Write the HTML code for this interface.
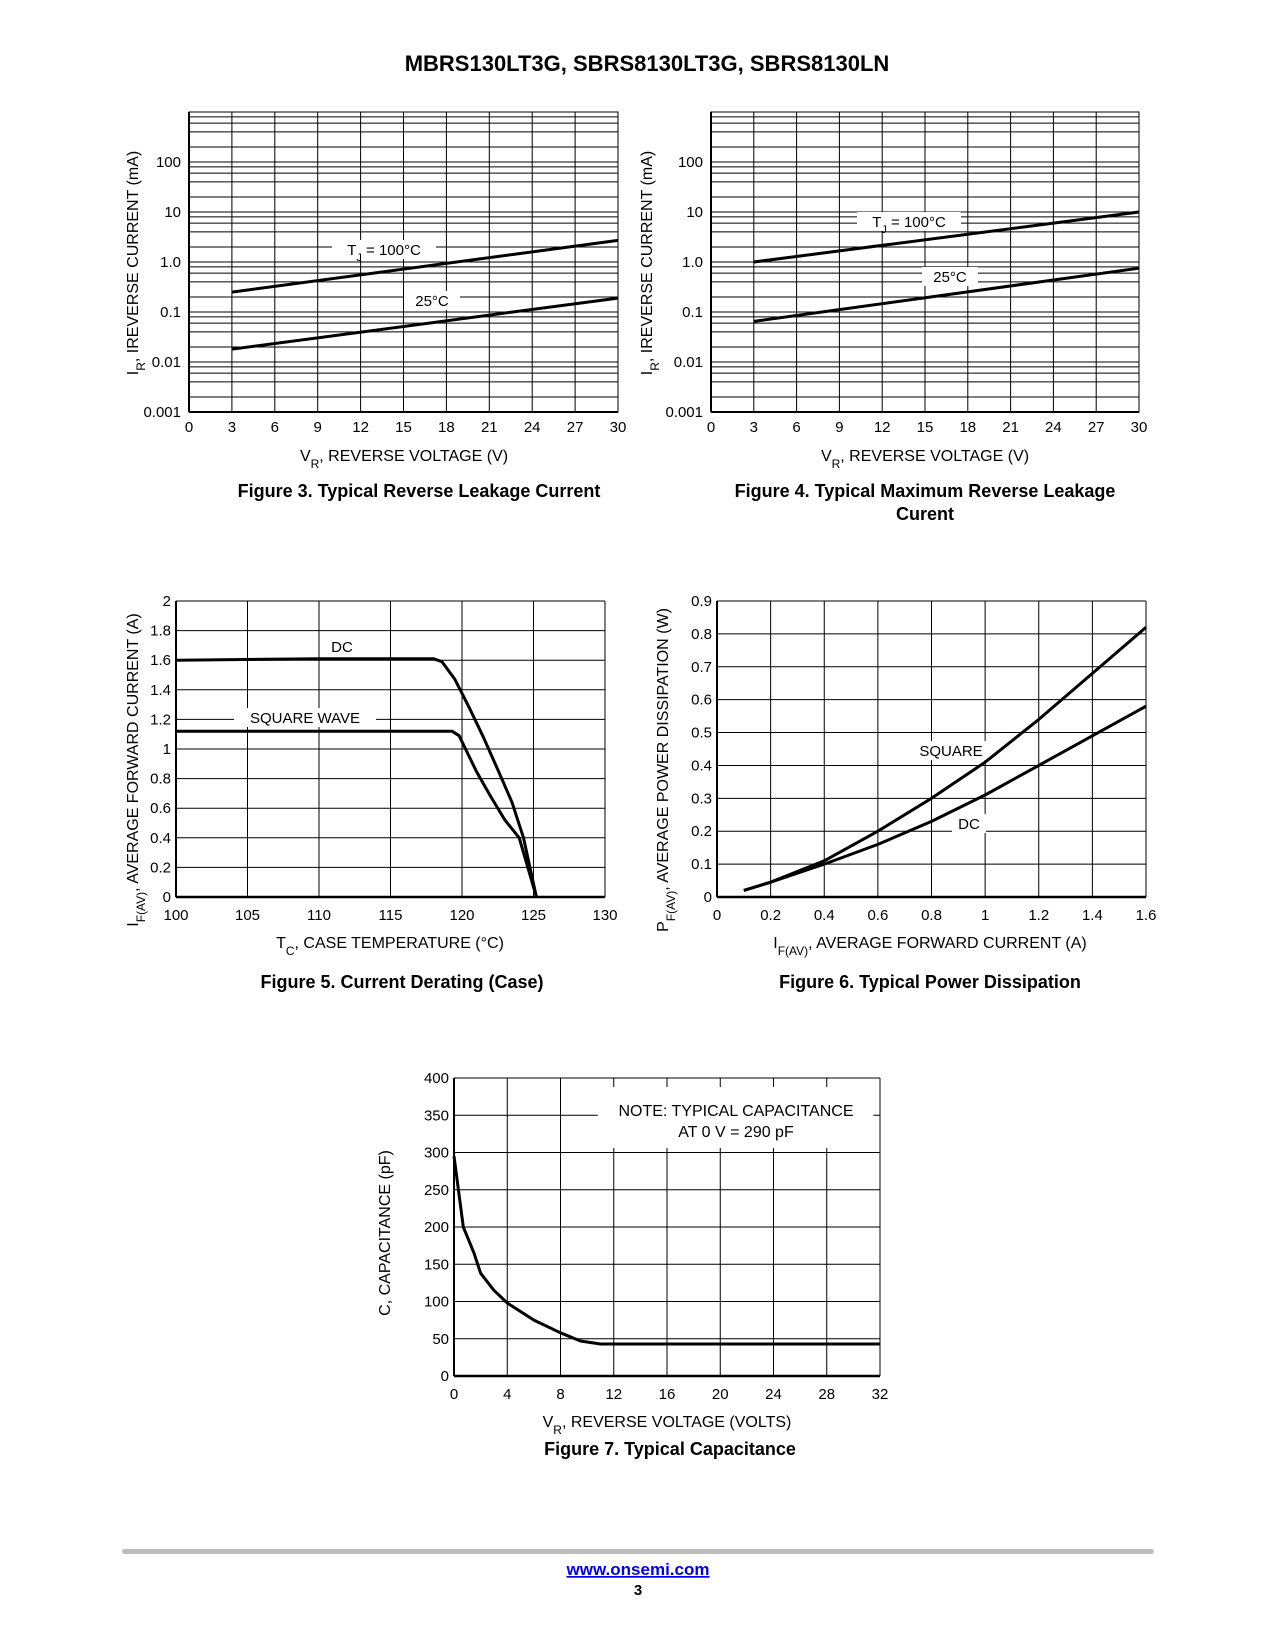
<!DOCTYPE html>
<html><head><meta charset="utf-8">
<style>
html,body{margin:0;padding:0;background:#fff;}
svg{display:block;font-family:"Liberation Sans",sans-serif;}
.t{font-size:15px;fill:#000;}
.ax{font-size:16px;fill:#000;}
.cap{font-size:18px;font-weight:bold;fill:#000;}
</style></head>
<body>
<svg id="page" width="1275" height="1650" viewBox="0 0 1275 1650" xmlns="http://www.w3.org/2000/svg">
<text x="647" y="71" text-anchor="middle" style="font-size:22px;font-weight:bold">MBRS130LT3G, SBRS8130LT3G, SBRS8130LN</text>

<g id="fig3"></g>
<text class="ax" x="404" y="461" text-anchor="middle">V<tspan baseline-shift="sub" font-size="12">R</tspan>, REVERSE VOLTAGE (V)</text>
<text class="ax" transform="translate(138,263) rotate(-90)" text-anchor="middle">I<tspan baseline-shift="sub" font-size="12">R</tspan>, IREVERSE CURRENT (mA)</text>
<text class="cap" x="419" y="497" text-anchor="middle">Figure 3. Typical Reverse Leakage Current</text>

<g id="fig4"></g>
<text class="ax" x="925" y="461" text-anchor="middle">V<tspan baseline-shift="sub" font-size="12">R</tspan>, REVERSE VOLTAGE (V)</text>
<text class="ax" transform="translate(652,263) rotate(-90)" text-anchor="middle">I<tspan baseline-shift="sub" font-size="12">R</tspan>, IREVERSE CURRENT (mA)</text>
<text class="cap" x="925" y="497" text-anchor="middle">Figure 4. Typical Maximum Reverse Leakage</text>
<text class="cap" x="925" y="520" text-anchor="middle">Curent</text>

<g id="fig5"></g>
<text class="ax" x="390" y="948" text-anchor="middle">T<tspan baseline-shift="sub" font-size="12">C</tspan>, CASE TEMPERATURE (°C)</text>
<text class="ax" transform="translate(138,770) rotate(-90)" text-anchor="middle">I<tspan baseline-shift="sub" font-size="12">F(AV)</tspan>, AVERAGE FORWARD CURRENT (A)</text>
<text class="cap" x="402" y="988" text-anchor="middle">Figure 5. Current Derating (Case)</text>

<g id="fig6"></g>
<text class="ax" x="930" y="948" text-anchor="middle">I<tspan baseline-shift="sub" font-size="12">F(AV)</tspan>, AVERAGE FORWARD CURRENT (A)</text>
<text class="ax" transform="translate(668,770) rotate(-90)" text-anchor="middle">P<tspan baseline-shift="sub" font-size="12">F(AV)</tspan>, AVERAGE POWER DISSIPATION (W)</text>
<text class="cap" x="930" y="988" text-anchor="middle">Figure 6. Typical Power Dissipation</text>

<g id="fig7"></g>
<text class="ax" x="667" y="1427" text-anchor="middle">V<tspan baseline-shift="sub" font-size="12">R</tspan>, REVERSE VOLTAGE (VOLTS)</text>
<text class="ax" transform="translate(390,1233) rotate(-90)" text-anchor="middle">C, CAPACITANCE  (pF)</text>
<text class="cap" x="670" y="1455" text-anchor="middle">Figure 7. Typical Capacitance</text>

<rect x="122" y="1549" width="1032" height="5" rx="2.5" fill="#bdbdbd"/>
<a href="#"><text x="638" y="1575" text-anchor="middle" style="font-size:17px;font-weight:bold;fill:#0000ee;text-decoration:underline">www.onsemi.com</text></a>
<text x="638" y="1595" text-anchor="middle" style="font-size:15px;font-weight:bold">3</text>
</svg>

<script>
// ---------- data ----------
const f3X = [0,3,6,9,12,15,18,21,24,27,30];
const f3YTicks = [0.001,0.01,0.1,1,10,100];
const f3YTickLabels = ["0.001","0.01","0.1","1.0","10","100"];
const f3V = [3,30];
const f3Hot = [0.25,2.7];
const f3Room = [0.018,0.19];
const f4V = [3,30];
const f4Hot = [1.0,10];
const f4Room = [0.065,0.75];
const f5XTicks = [100,105,110,115,120,125,130];
const f5YTicks = [0,0.2,0.4,0.6,0.8,1,1.2,1.4,1.6,1.8,2];
const f5YTickLabels = ["0","0.2","0.4","0.6","0.8","1","1.2","1.4","1.6","1.8","2"];
const f5DcT = [100,110,118,118.6,119.5,120.5,121.5,122.5,123.5,124.3,125.2];
const f5DcI = [1.6,1.61,1.61,1.59,1.47,1.28,1.08,0.86,0.64,0.4,0];
const f5SqT = [100,119.3,119.8,121,122,123,124,125.2];
const f5SqI = [1.12,1.12,1.09,0.85,0.68,0.52,0.4,0];
const f6XTicks = [0,0.2,0.4,0.6,0.8,1,1.2,1.4,1.6];
const f6XTickLabels = ["0","0.2","0.4","0.6","0.8","1","1.2","1.4","1.6"];
const f6YTicks = [0,0.1,0.2,0.3,0.4,0.5,0.6,0.7,0.8,0.9];
const f6SqI = [0.1,0.2,0.4,0.6,0.8,1.0,1.2,1.4,1.6];
const f6SqP = [0.02,0.045,0.11,0.2,0.3,0.41,0.54,0.68,0.82];
const f6DcI = [0.1,0.2,0.4,0.6,0.8,1.0,1.2,1.4,1.6];
const f6DcP = [0.02,0.045,0.1,0.16,0.23,0.31,0.4,0.49,0.58];
const f7XTicks = [0,4,8,12,16,20,24,28,32];
const f7YTicks = [0,50,100,150,200,250,300,350,400];
const f7V = [0,0.7,1.5,2,3,4,6,8,9.5,11,32];
const f7C = [295,200,165,138,115,98,75,58,47,43,43];

const NS = "http://www.w3.org/2000/svg";
function mk(parent, tag, attrs){
  const el = document.createElementNS(NS, tag);
  for (const k in attrs) el.setAttribute(k, attrs[k]);
  parent.appendChild(el);
  return el;
}
function linScale(d0,d1,r0,r1){return v=>r0+(v-d0)/(d1-d0)*(r1-r0);}
function logScale(d0,d1,r0,r1){return v=>r0+(Math.log10(v)-Math.log10(d0))/(Math.log10(d1)-Math.log10(d0))*(r1-r0);}
function drawLine(g, xs, ys, sx, sy, name){
  let d = "";
  xs.forEach((x,i)=>{d += (i?"L":"M") + sx(x).toFixed(1) + "," + sy(ys[i]).toFixed(1);});
  const p = mk(g,"path",{d:d, fill:"none", stroke:"#000", "stroke-width":"3", "stroke-linejoin":"round"});
  
  
}
function label(g, x, y, w, h, txt, name){
  const r = mk(g,"rect",{x:x, y:y, width:w, height:h, fill:"#fff"});
  
  
  const t = mk(g,"text",{x:x+w/2, y:y+h-4, "text-anchor":"middle", "font-size":"15"});
  
  
  return t;
}

// ---------- log charts (fig 3 & 4) ----------
function logChart(id, L, R, T, B, V, hot, room, lbl){
  const g = document.getElementById(id);
  const sx = linScale(0,30,L,R), sy = logScale(0.001,1000,B,T);
  for (let d=-3; d<3; d++){
    [1,2,4,6,8].forEach(m=>{
      const v = m*Math.pow(10,d);
      const ln = mk(g,"line",{x1:L,x2:R,y1:sy(v),y2:sy(v),stroke:"#000","stroke-width":"1"});
      
      
    });
  }
  f3X.forEach(v=>{
    const ln = mk(g,"line",{x1:sx(v),x2:sx(v),y1:T,y2:B,stroke:"#000","stroke-width":"1"});
    
    
    const t = mk(g,"text",{x:sx(v), y:B+20, "text-anchor":"middle", class:"t"});
    
    
    t.textContent = v;
  });
  f3YTicks.forEach((v,i)=>{
    const t = mk(g,"text",{x:L-8, y:sy(v)+5, "text-anchor":"end", class:"t"});
    
    
    t.textContent = f3YTickLabels[i];
  });
  const fr = mk(g,"rect",{x:L,y:T,width:R-L,height:B-T,fill:"none",stroke:"#000","stroke-width":"1"});
  
  
  mk(g,"line",{x1:L,x2:L,y1:T,y2:B,stroke:"#000","stroke-width":"2"});
  mk(g,"line",{x1:L,x2:R,y1:B,y2:B,stroke:"#000","stroke-width":"2"});
  const a = label(g, lbl[0], lbl[1], 104, 19, "", "tj-100c-label");
  a.innerHTML = 'T<tspan baseline-shift="sub" font-size="11">J</tspan> = 100°C';
  const b = label(g, lbl[2], lbl[3], 56, 19, "", "25c-label");
  b.textContent = "25°C";
  drawLine(g, V, hot, sx, sy, "curve-tj-100c");
  drawLine(g, V, room, sx, sy, "curve-25c");
}
logChart("fig3", 189, 618, 112, 412, f3V, f3Hot, f3Room, [332,240,404,291]);
logChart("fig4", 711, 1139, 112, 412, f4V, f4Hot, f4Room, [857,212,922,267]);

// ---------- linear charts ----------
function linChart(id, L, R, T, B, xTicks, xLab, yTicks, yLab, xd, yd){
  const g = document.getElementById(id);
  const sx = linScale(xd[0],xd[1],L,R), sy = linScale(yd[0],yd[1],B,T);
  yTicks.forEach((v,i)=>{
    const ln = mk(g,"line",{x1:L,x2:R,y1:sy(v),y2:sy(v),stroke:"#000","stroke-width":"1"});
    
    
    const t = mk(g,"text",{x:L-5, y:sy(v)+5, "text-anchor":"end", class:"t"});
    
    
    t.textContent = yLab[i];
  });
  xTicks.forEach((v,i)=>{
    const ln = mk(g,"line",{x1:sx(v),x2:sx(v),y1:T,y2:B,stroke:"#000","stroke-width":"1"});
    
    
    const t = mk(g,"text",{x:sx(v), y:B+23, "text-anchor":"middle", class:"t"});
    
    
    t.textContent = xLab[i];
  });
  mk(g,"line",{x1:L,x2:L,y1:T,y2:B,stroke:"#000","stroke-width":"2"});
  mk(g,"line",{x1:L,x2:R,y1:B,y2:B,stroke:"#000","stroke-width":"2.5"});
  return {g, sx, sy};
}
// fig 5
(function(){
  const c = linChart("fig5", 176, 605, 601, 897, f5XTicks, f5XTicks, f5YTicks, f5YTickLabels, [100,130], [0,2]);
  label(c.g, 320, 637, 44, 19, "", "dc-label").textContent = "DC";
  label(c.g, 234, 708, 142, 19, "", "square-wave-label").textContent = "SQUARE WAVE";
  drawLine(c.g, f5DcT, f5DcI, c.sx, c.sy, "curve-dc");
  drawLine(c.g, f5SqT, f5SqI, c.sx, c.sy, "curve-square-wave");
})();
// fig 6
(function(){
  const c = linChart("fig6", 717, 1146, 601, 897, f6XTicks, f6XTickLabels, f6YTicks, f6YTicks, [0,1.6], [0,0.9]);
  label(c.g, 913, 741, 76, 19, "", "square-label").textContent = "SQUARE";
  label(c.g, 952, 814, 34, 19, "", "dc-label").textContent = "DC";
  drawLine(c.g, f6SqI, f6SqP, c.sx, c.sy, "curve-square");
  drawLine(c.g, f6DcI, f6DcP, c.sx, c.sy, "curve-dc");
})();
// fig 7
(function(){
  const c = linChart("fig7", 454, 880, 1078, 1376, f7XTicks, f7XTicks, f7YTicks, f7YTicks, [0,32], [0,400]);
  const r = mk(c.g,"rect",{x:c.sx(10.8), y:1087, width:c.sx(31.5)-c.sx(10.8), height:61, fill:"#fff"});
  
  
  const t1 = mk(c.g,"text",{x:736, y:1116, "text-anchor":"middle", "font-size":"16"});
  
  
  t1.textContent = "NOTE: TYPICAL CAPACITANCE";
  const t2 = mk(c.g,"text",{x:736, y:1137, "text-anchor":"middle", "font-size":"16"});
  
  
  t2.textContent = "AT 0 V = 290 pF";
  mk(c.g,"line",{x1:c.sx(32),x2:c.sx(32),y1:1078,y2:1376,stroke:"#000","stroke-width":"1"});
  drawLine(c.g, f7V, f7C, c.sx, c.sy, "curve-capacitance");
})();
</script>
</body></html>
